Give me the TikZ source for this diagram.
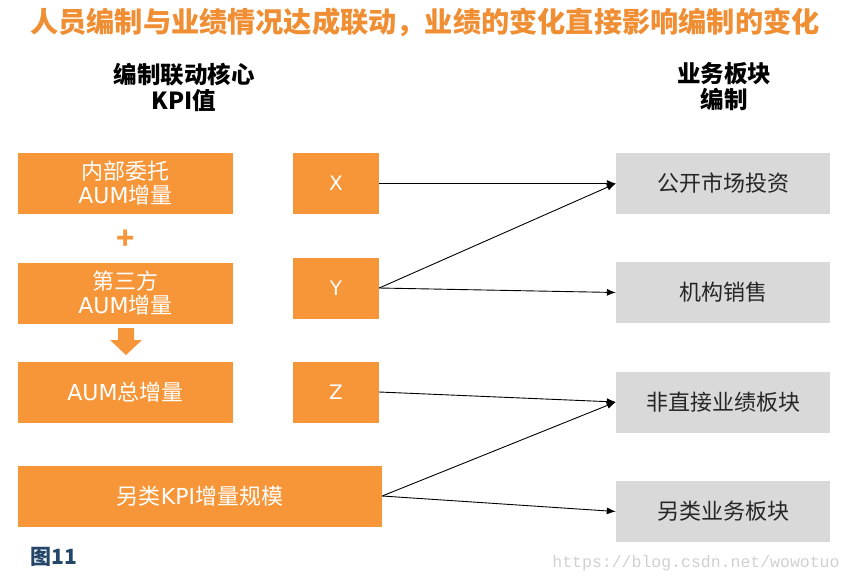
\documentclass[tikz,border=0pt]{standalone}
\usepackage{fontspec}
\setmainfont{Noto Sans CJK SC}
\newfontfamily\latin{DejaVu Sans}
\newfontfamily\urlfont{Liberation Mono}
\usetikzlibrary{arrows.meta,positioning}
\definecolor{kpiorange}{RGB}{247,150,56}
\definecolor{titleorange}{RGB}{240,142,52}
\definecolor{unitgray}{RGB}{217,217,217}
\definecolor{figblue}{RGB}{36,70,105}
\definecolor{markgray}{RGB}{208,208,208}

\begin{document}
\begin{tikzpicture}[
    x=1pt, y=-1pt,
    kpibox/.style={rectangle, fill=kpiorange, text=white, minimum width=215pt, minimum height=61pt, inner sep=0pt, align=center, font=\fontsize{22}{24}\selectfont},
    varbox/.style={kpibox, minimum width=86pt},
    unitbox/.style={rectangle, fill=unitgray, text=black!85, minimum width=214pt, minimum height=61pt, inner sep=0pt, font=\fontsize{22}{24}\selectfont},
    headline/.style={align=center, font=\bfseries\fontsize{23.5}{26}\selectfont},
    link/.style={-{Latex[length=9pt,width=7pt]}, line width=0.9pt}
]
\useasboundingbox (0,0) rectangle (852,582);

% Title
\node[text=titleorange, font=\bfseries\fontsize{28.2}{30}\selectfont] (title) at (425,22) {人员编制与业绩情况达成联动，业绩的变化直接影响编制的变化};

% Column heads
\node[headline] (kpihead) at (184,87) {编制联动核心\\KPI值};
\node[headline] (unithead) at (724,87) {业务板块\\编制};

% KPI blocks
\node[kpibox] (inner) at (125.5,183.5) {内部委托\\{\latin AUM}增量};
\node[kpibox] (third) at (125.5,293) {第三方\\{\latin AUM}增量};
\node[kpibox] (total) at (125.5,392) {{\latin AUM}总增量};
\node[kpibox, minimum width=364pt] (altkpi) at (200,496) {另类{\latin KPI}增量规模};

\node[text=kpiorange, font=\bfseries\fontsize{30}{30}\selectfont] (plus) at (126,240) {+};
\fill[kpiorange] (118,328) -- (134,328) -- (134,340) -- (142,340) -- (126,355) -- (110,340) -- (118,340) -- cycle;

% Variables
\node[varbox, font=\latin\fontsize{20}{24}\selectfont] (vx) at (336,183.5) {X};
\node[varbox, font=\latin\fontsize{20}{24}\selectfont] (vy) at (336,288) {Y};
\node[varbox, font=\latin\fontsize{20}{24}\selectfont] (vz) at (336,392) {Z};

% Business units
\node[unitbox] (public) at (723,183.5) {公开市场投资};
\node[unitbox] (inst) at (723,292.5) {机构销售};
\node[unitbox] (nondirect) at (723,402) {非直接业绩板块};
\node[unitbox] (altunit) at (723,511.5) {另类业务板块};

% Links
\draw[link] (vx.east) -- (public.west);
\draw[link] (vy.east) -- (public.west);
\draw[link] (vy.east) -- (inst.west);
\draw[link] (vz.east) -- (nondirect.west);
\draw[link] (altkpi.east) -- (nondirect.west);
\draw[link] (altkpi.east) -- (altunit.west);

% Footer
\node[text=figblue, font=\bfseries\fontsize{21}{22}\selectfont] (fig) at (54,557) {图11};
\node[text=markgray, font=\urlfont\fontsize{16.5}{18}\selectfont] (mark) at (696,563) {https://blog.csdn.net/wowotuo};
\end{tikzpicture}
\end{document}
